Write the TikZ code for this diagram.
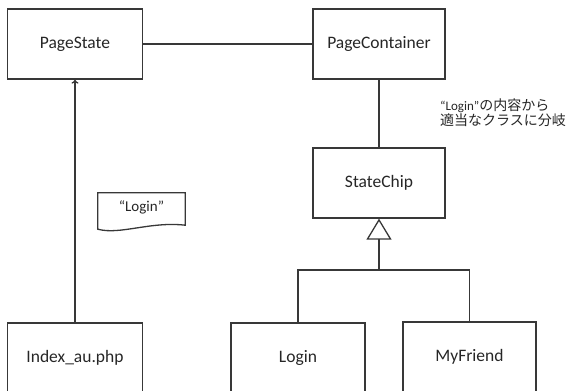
\documentclass[tikz,border=0pt]{standalone}
\usepackage{fontspec}
\setmainfont{Carlito}
\newfontfamily\cjk{Noto Sans CJK JP}
\usetikzlibrary{arrows.meta}
\begin{document}
\begin{tikzpicture}
	[x=1pt,y=1pt,
	line/.style={draw=black!78,line width=1.3pt},
	class/.style={line,rectangle,minimum height=70pt,text=black!85,font=\fontsize{17.5}{20}\selectfont},
	note/.style={rectangle,minimum width=87pt,minimum height=28pt,text=black!85,font=\fontsize{15}{18}\selectfont},
	remark/.style={align=left,text=black!85,inner sep=0pt}]
	\useasboundingbox (0,0) rectangle (568,391);
	\clip (0,0) rectangle (568,391);
	\node[class,minimum width=135pt] (PageState) at (75,347) {PageState};
	\node[class,minimum width=132pt] (PageContainer) at (379,347) {PageContainer};
	\node[class,minimum width=132pt] (StateChip) at (379,208) {StateChip};
	\node[class,minimum width=135pt] (Index) at (75,33) {Index\_au.php};
	\node[class,minimum width=134pt] (Login) at (298,33) {Login};
	\node[class,minimum width=133pt] (MyFriend) at (469.5,34) {MyFriend};
	\node[note] (quote) at (141.5,184) {“Login”};
	\node[remark,anchor=west] (branch) at (440,278)
		{{\fontsize{13}{16}\selectfont “Login”}{\cjk\fontsize{14}{16}\selectfont の内容から}\\
		 {\cjk\fontsize{14}{16}\selectfont 適当なクラスに分岐}};
	\coordinate (split) at (379,121);

	\draw[line] (PageState) -- (PageContainer);
	\draw[line] (PageContainer) -- (StateChip);
	\draw[line,-{To[length=4pt,width=7pt]}] (Index) -- (PageState);
	\draw[line,-{Triangle[open,fill=white,length=21pt,width=25pt]}] (split) -- (StateChip);
	\draw[line] (Login.north) |- (split) -| (MyFriend.north);
	\draw[line] (quote.north west) -- (quote.north east) -- ([yshift=-4pt]quote.south east)
		.. controls +(-35,4) and +(22,-6) .. ([yshift=-8pt]quote.south west) -- cycle;
\end{tikzpicture}
\end{document}
